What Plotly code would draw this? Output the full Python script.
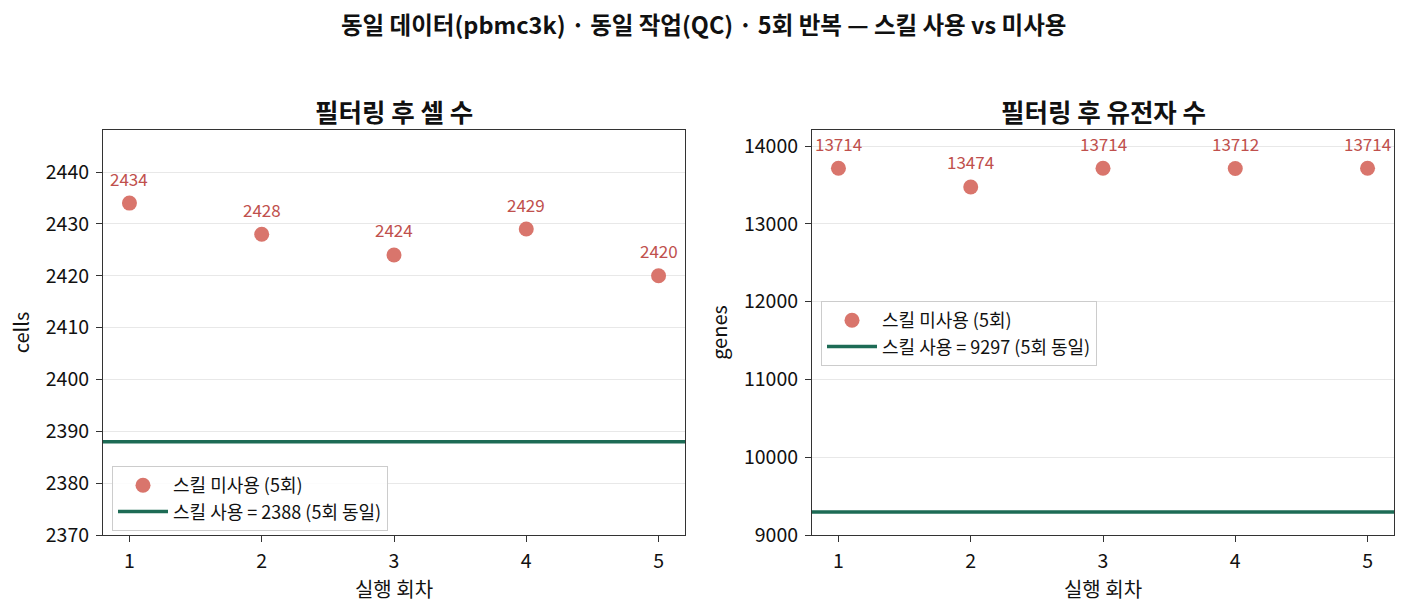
import plotly.graph_objects as go

runs = [1, 2, 3, 4, 5]
cells_no_skill = [2434, 2428, 2424, 2429, 2420]
cells_skill = 2388
genes_no_skill = [13714, 13474, 13714, 13712, 13714]
genes_skill = 9297

main_title = "동일 데이터(pbmc3k) · 동일 작업(QC) · 5회 반복 — 스킬 사용 vs 미사용"
titles = ["필터링 후 셀 수", "필터링 후 유전자 수"]
xlabel = "실행 회차"
ylabels = ["cells", "genes"]
name_no = "스킬 미사용 (5회)"
name_yes_tpl = "스킬 사용 = {} (5회 동일)"

FONT = "Noto Sans CJK KR"
C_DOT = "#d9756c"
C_TXT = "#c0504d"
C_LINE = "#1d6b55"

W, H = 1406, 612

xr1 = [0.8, 5.2]
xr2 = [0.8, 5.2]
yr1 = [2370, 2448.1]
yr2 = [9000, 14206]

fig = go.Figure()

panels = [
    (cells_no_skill, cells_skill, "x", "y", xr1, "legend"),
    (genes_no_skill, genes_skill, "x2", "y2", xr2, "legend2"),
]
for vals, ref, xa, ya, xr, lg in panels:
    fig.add_trace(go.Scatter(
        x=runs, y=vals, mode="markers", name=name_no,
        marker=dict(color=C_DOT, size=15),
        xaxis=xa, yaxis=ya, legend=lg, cliponaxis=False,
    ))
    fig.add_trace(go.Scatter(
        x=xr, y=[ref, ref], mode="lines", name=name_yes_tpl.format(ref),
        line=dict(color=C_LINE, width=3.5),
        xaxis=xa, yaxis=ya, legend=lg,
    ))
    for xv, yv in zip(runs, vals):
        fig.add_annotation(
            x=xv, y=yv, xref=xa, yref=ya, text=str(yv), showarrow=False,
            yshift=25, font=dict(family=FONT, size=17, color=C_TXT),
        )

axis_common = dict(
    showline=True, linecolor="#333333", linewidth=1, mirror=True,
    ticks="outside", ticklen=6, tickcolor="#333333",
    tickfont=dict(family=FONT, size=19.5, color="#111111"),
    ticklabelstandoff=3,
    zeroline=False, automargin=False,
)

def py(pix):
    return 1 - pix / H

TF = dict(family=FONT, size=20, color="#111111")

L1, R1 = 103, 685
L2, R2 = 812, 1394

fig.update_layout(
    width=W, height=H,
    autosize=False,
    margin=dict(l=0, r=0, t=0, b=0, pad=0),
    paper_bgcolor="white", plot_bgcolor="white",
    font=dict(family=FONT, color="#111111"),
    xaxis=dict(domain=[L1/W, R1/W], range=xr1, tickvals=runs,
               showgrid=False,
               title=dict(text=xlabel, font=TF, standoff=8),
               **axis_common),
    yaxis=dict(domain=[py(535), py(130)], range=yr1, dtick=10,
               showgrid=True, gridcolor="#e8e8e8",
               title=dict(text=ylabels[0], font=TF, standoff=10),
               **axis_common),
    xaxis2=dict(domain=[L2/W, R2/W], range=xr2, tickvals=runs,
                showgrid=False, anchor="y2",
                title=dict(text=xlabel, font=TF, standoff=8),
                **axis_common),
    yaxis2=dict(domain=[py(535), py(130)], range=yr2, dtick=1000, tickformat="d",
                showgrid=True, gridcolor="#e8e8e8", anchor="x2",
                title=dict(text=ylabels[1], font=TF, standoff=10),
                **axis_common),
    legend=dict(x=112/W, y=py(466), xanchor="left", yanchor="top",
                bgcolor="rgba(255,255,255,0.85)", bordercolor="#cccccc", borderwidth=1,
                font=dict(family=FONT, size=18), itemwidth=50),
    legend2=dict(x=821/W, y=py(301), xanchor="left", yanchor="top",
                 bgcolor="rgba(255,255,255,0.85)", bordercolor="#cccccc", borderwidth=1,
                 font=dict(family=FONT, size=18), itemwidth=50),
    annotations=list(fig.layout.annotations) + [
        dict(text=f"<b>{main_title}</b>", x=0.5, y=py(24), xref="paper", yref="paper",
             xanchor="center", yanchor="middle", showarrow=False,
             font=dict(family=FONT, size=23.5, color="#111111")),
        dict(text=f"<b>{titles[0]}</b>", x=(L1+R1)/2/W, y=py(110), xref="paper", yref="paper",
             xanchor="center", yanchor="middle", showarrow=False,
             font=dict(family=FONT, size=25.5, color="#111111")),
        dict(text=f"<b>{titles[1]}</b>", x=(L2+R2)/2/W, y=py(110), xref="paper", yref="paper",
             xanchor="center", yanchor="middle", showarrow=False,
             font=dict(family=FONT, size=25.5, color="#111111")),
    ],
)

fig.write_html("out.html")
